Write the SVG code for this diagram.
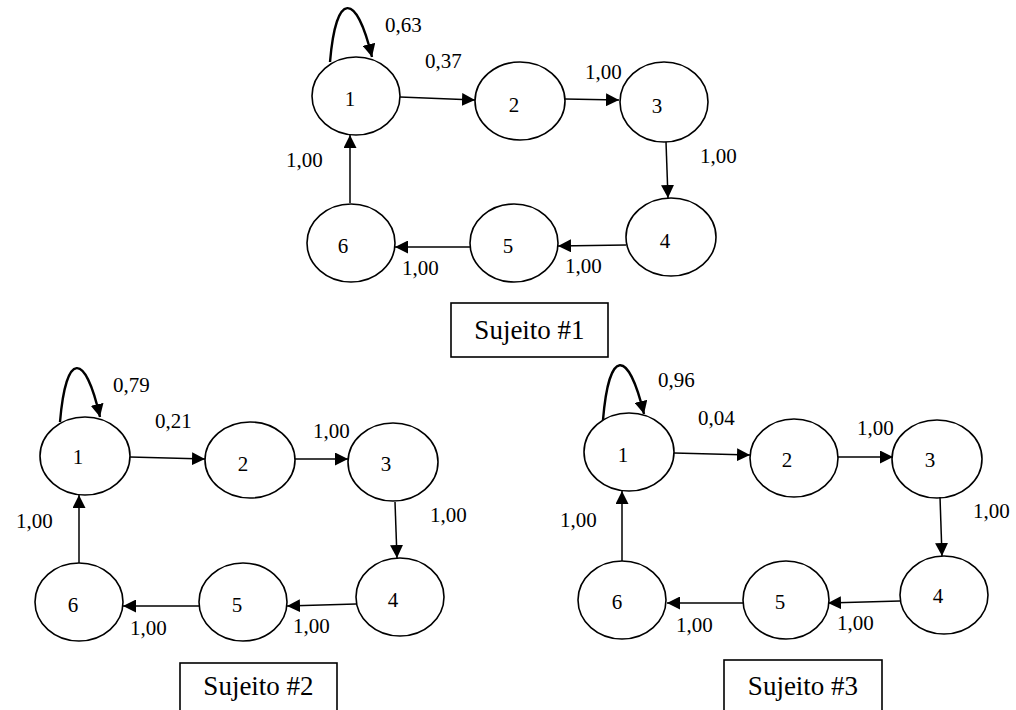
<svg xmlns="http://www.w3.org/2000/svg" width="1016" height="710" viewBox="0 0 1016 710" font-family="'Liberation Serif', 'DejaVu Serif', serif">
<style>
text{font-family:'Liberation Serif','DejaVu Serif',serif;fill:#000}
.n ellipse{fill:#fff;stroke:#000;stroke-width:1.6}
.n text{font-size:21px;text-anchor:middle}
.e line,.e path{stroke:#000;stroke-width:1.5;fill:none;marker-end:url(#ah)}
.e path{stroke-width:2.4}
.lb{font-size:21px}
.box rect{fill:#fff;stroke:#000;stroke-width:1.6}
.box text{font-size:27px;text-anchor:middle}
</style>
<defs>
<marker id="ah" markerUnits="userSpaceOnUse" viewBox="0 0 13 13" markerWidth="13" markerHeight="13" refX="13" refY="6.5" orient="auto">
<path d="M0,0 L13,6.5 L0,13 Z" fill="#000"/>
</marker>
</defs>
<rect width="1016" height="710" fill="#fff"/>

<!-- Sujeito 1 -->
<g id="s1-nodes">
<g id="s1-n1" class="n"><ellipse cx="356" cy="96" rx="44" ry="39"/><text x="350" y="106">1</text></g>
<g id="s1-n2" class="n"><ellipse cx="520" cy="101" rx="45" ry="39"/><text x="514" y="112">2</text></g>
<g id="s1-n3" class="n"><ellipse cx="664" cy="102" rx="44" ry="40"/><text x="657" y="113">3</text></g>
<g id="s1-n4" class="n"><ellipse cx="671" cy="237" rx="45" ry="39"/><text x="665" y="248">4</text></g>
<g id="s1-n5" class="n"><ellipse cx="514" cy="243" rx="44" ry="39"/><text x="508" y="253">5</text></g>
<g id="s1-n6" class="n"><ellipse cx="351" cy="243" rx="44" ry="39"/><text x="343" y="253">6</text></g>
</g>
<g id="s1-edges" class="e">
<path d="M330,62 C336,-9 356,-9 372,57"/>
<line x1="400" y1="97" x2="475" y2="100"/>
<line x1="565" y1="99" x2="619" y2="100"/>
<line x1="666" y1="142" x2="668" y2="198"/>
<line x1="626" y1="245" x2="558" y2="246"/>
<line x1="470" y1="247" x2="395" y2="247"/>
<line x1="350" y1="203" x2="350" y2="135"/>
</g>
<g id="s1-labels" class="lb">
<text x="385" y="32">0,63</text>
<text x="425" y="68">0,37</text>
<text x="585" y="79">1,00</text>
<text x="700" y="163">1,00</text>
<text x="286" y="167">1,00</text>
<text x="402" y="275">1,00</text>
<text x="565" y="273">1,00</text>
</g>
<g id="s1-box" class="box"><rect x="451" y="303" width="157" height="54"/><text x="529.5" y="339">Sujeito #1</text></g>

<!-- Sujeito 2 -->
<g id="s2-nodes">
<g id="s2-n1" class="n"><ellipse cx="85" cy="456" rx="45" ry="39"/><text x="78" y="464">1</text></g>
<g id="s2-n2" class="n"><ellipse cx="250" cy="460" rx="45" ry="38"/><text x="243" y="471">2</text></g>
<g id="s2-n3" class="n"><ellipse cx="393" cy="462" rx="45" ry="39"/><text x="386" y="471">3</text></g>
<g id="s2-n4" class="n"><ellipse cx="400" cy="597" rx="44" ry="39"/><text x="393" y="607">4</text></g>
<g id="s2-n5" class="n"><ellipse cx="243" cy="602" rx="44" ry="39"/><text x="237" y="612">5</text></g>
<g id="s2-n6" class="n"><ellipse cx="79" cy="602" rx="44" ry="39"/><text x="73" y="612">6</text></g>
</g>
<g id="s2-edges" class="e">
<path d="M60,422 C66,351 85,351 100,417"/>
<line x1="130" y1="457" x2="205" y2="459"/>
<line x1="295" y1="459" x2="348" y2="459"/>
<line x1="395" y1="502" x2="397" y2="558"/>
<line x1="356" y1="604" x2="287" y2="606"/>
<line x1="199" y1="606" x2="123" y2="606"/>
<line x1="79" y1="563" x2="79" y2="495"/>
</g>
<g id="s2-labels" class="lb">
<text x="113" y="392">0,79</text>
<text x="155" y="428">0,21</text>
<text x="313" y="438">1,00</text>
<text x="430" y="522">1,00</text>
<text x="16" y="528">1,00</text>
<text x="130" y="635">1,00</text>
<text x="293" y="633">1,00</text>
</g>
<g id="s2-box" class="box"><rect x="180" y="663" width="157" height="60"/><text x="258.5" y="695">Sujeito #2</text></g>

<!-- Sujeito 3 -->
<g id="s3-nodes">
<g id="s3-n1" class="n"><ellipse cx="629" cy="452" rx="45" ry="39"/><text x="623" y="462">1</text></g>
<g id="s3-n2" class="n"><ellipse cx="794" cy="458" rx="44" ry="39"/><text x="787" y="467">2</text></g>
<g id="s3-n3" class="n"><ellipse cx="937" cy="459" rx="45" ry="39"/><text x="930" y="467">3</text></g>
<g id="s3-n4" class="n"><ellipse cx="944" cy="595" rx="44" ry="39"/><text x="938" y="603">4</text></g>
<g id="s3-n5" class="n"><ellipse cx="786" cy="600" rx="43" ry="39"/><text x="780" y="609">5</text></g>
<g id="s3-n6" class="n"><ellipse cx="622" cy="600" rx="44" ry="39"/><text x="617" y="609">6</text></g>
</g>
<g id="s3-edges" class="e">
<path d="M603,420 C609,348 628,348 644,414"/>
<line x1="674" y1="453" x2="750" y2="455"/>
<line x1="838" y1="457" x2="893" y2="457"/>
<line x1="940" y1="497" x2="942" y2="556"/>
<line x1="900" y1="601" x2="828" y2="603"/>
<line x1="743" y1="603" x2="667" y2="603"/>
<line x1="622" y1="561" x2="622" y2="491"/>
</g>
<g id="s3-labels" class="lb">
<text x="658" y="387">0,96</text>
<text x="698" y="425">0,04</text>
<text x="857" y="435">1,00</text>
<text x="973" y="518">1,00</text>
<text x="560" y="527">1,00</text>
<text x="676" y="632">1,00</text>
<text x="837" y="630">1,00</text>
</g>
<g id="s3-box" class="box"><rect x="724" y="660" width="158" height="60"/><text x="803" y="695">Sujeito #3</text></g>
</svg>
